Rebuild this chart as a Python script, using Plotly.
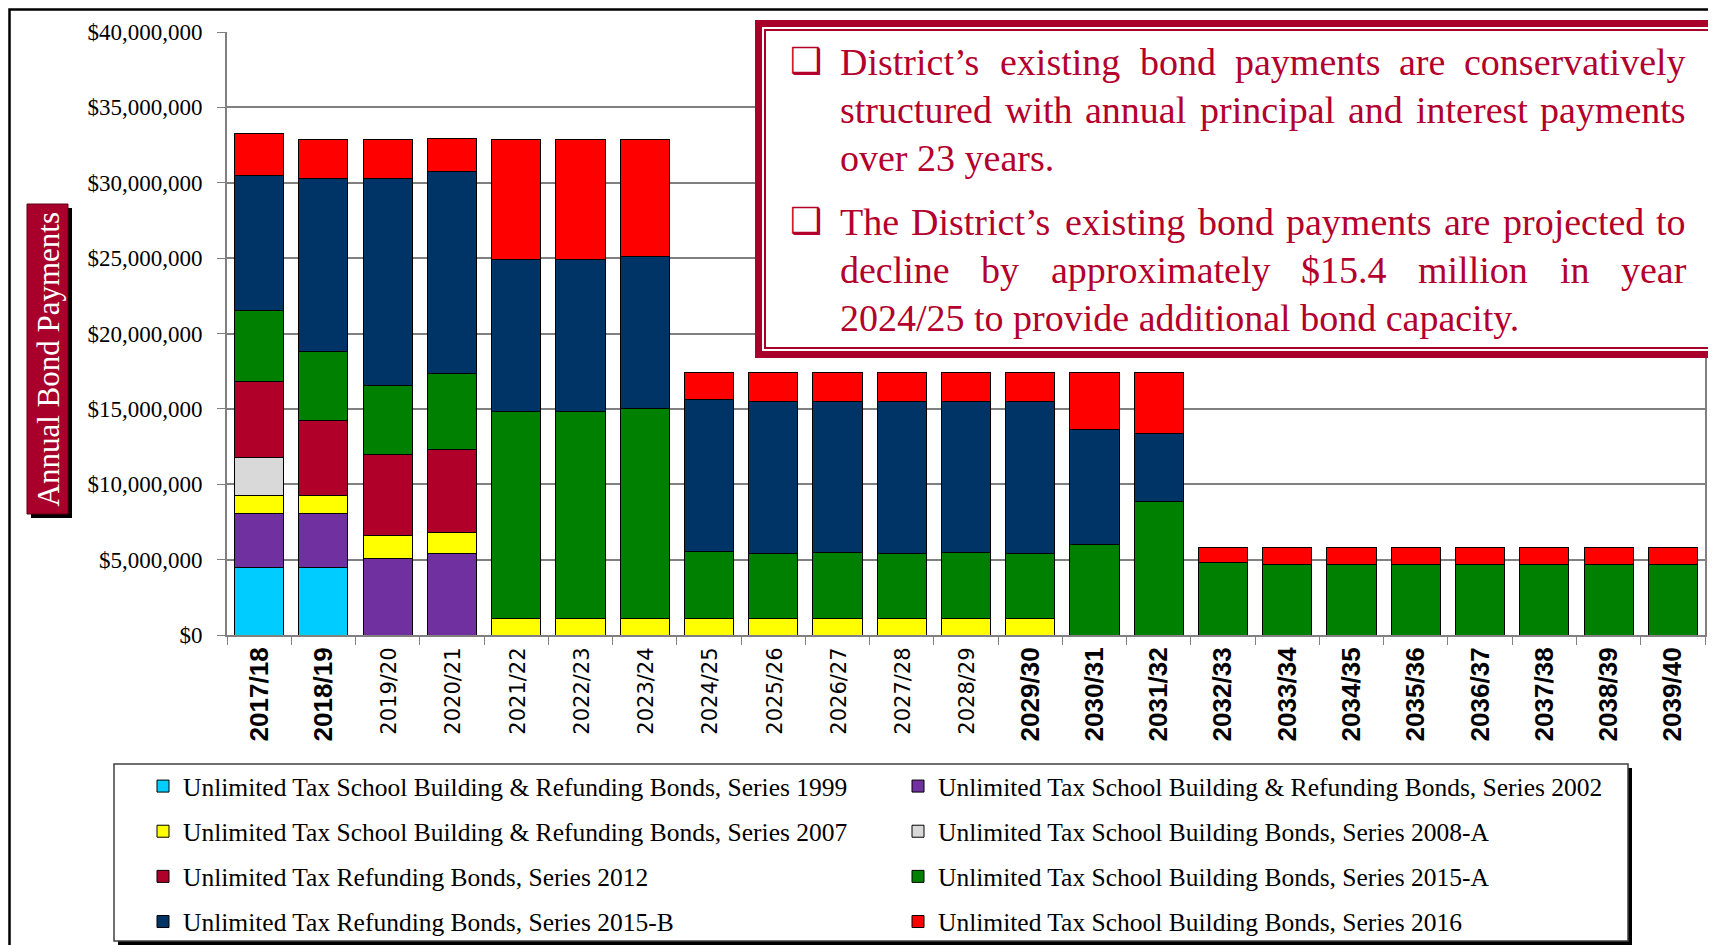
import plotly.graph_objects as go

# fiscal years on the x axis
years = ["2017/18", "2018/19", "2019/20", "2020/21", "2021/22", "2022/23", "2023/24",
         "2024/25", "2025/26", "2026/27", "2027/28", "2028/29", "2029/30", "2030/31",
         "2031/32", "2032/33", "2033/34", "2034/35", "2035/36", "2036/37", "2037/38",
         "2038/39", "2039/40"]

# annual payments per bond series (dollars), None = no payment that year
s1999 = [4_500_000, 4_500_000] + [None] * 21
s2002 = [3_560_000, 3_560_000, 5_050_000, 5_400_000] + [None] * 19
s2007 = [1_190_000, 1_170_000, 1_530_000, 1_420_000] + [1_090_000] * 9 + [None] * 10
s2008a = [2_500_000] + [None] * 22
s2012 = [5_040_000, 5_020_000, 5_370_000, 5_480_000] + [None] * 19
s2015a = [4_760_000, 4_530_000, 4_600_000, 5_020_000, 13_740_000, 13_740_000, 13_910_000,
          4_450_000, 4_320_000, 4_380_000, 4_320_000, 4_380_000, 4_320_000, 6_000_000,
          8_830_000, 4_830_000] + [4_680_000] * 7
s2015b = [8_930_000, 11_500_000, 13_730_000, 13_430_000, 10_100_000, 10_100_000, 10_080_000,
          10_060_000, 10_080_000, 10_020_000, 10_080_000, 10_020_000, 10_080_000, 7_610_000,
          4_540_000] + [None] * 8
s2016 = [2_760_000, 2_590_000, 2_590_000, 2_210_000, 7_940_000, 7_940_000, 7_790_000,
         1_830_000, 1_940_000, 1_940_000, 1_940_000, 1_940_000, 1_940_000, 3_820_000,
         4_060_000, 950_000] + [1_100_000] * 7

series = [
    ("Unlimited Tax School Building & Refunding Bonds, Series 1999", s1999, "#00CCFF", "legend"),
    ("Unlimited Tax School Building & Refunding Bonds, Series 2002", s2002, "#7030A0", "legend2"),
    ("Unlimited Tax School Building & Refunding Bonds, Series 2007", s2007, "#FFFF00", "legend"),
    ("Unlimited Tax School Building Bonds, Series 2008-A", s2008a, "#D9D9D9", "legend2"),
    ("Unlimited Tax Refunding Bonds, Series 2012", s2012, "#B0002A", "legend"),
    ("Unlimited Tax School Building Bonds, Series 2015-A", s2015a, "#008000", "legend2"),
    ("Unlimited Tax Refunding Bonds, Series 2015-B", s2015b, "#003366", "legend"),
    ("Unlimited Tax School Building Bonds, Series 2016", s2016, "#FF0000", "legend2"),
]

bold_years = set(years[:2] + years[12:])

box_lines = [
    ("District’s existing bond payments are conservatively", True),
    ("structured with annual principal and interest payments", True),
    ("over 23 years.", False),
    ("The District’s existing bond payments are projected to", True),
    ("decline by approximately $15.4 million in year", True),
    ("2024/25 to provide additional bond capacity.", False),
]

# the page body adds an 8px margin, so everything is laid out 8px up/left
OFF = 8
W, H = 1716, 945
L, T = 227 - OFF, 32 - OFF
R, B = W - (1705 - OFF), H - (635 - OFF)
PW, PH = W - L - R, H - T - B
CRIMSON = "#A8002A"
TEXTRED = "#B3002D"


def px(x):
    return (x - OFF - L) / PW


def py(y):
    return (H - B - (y - OFF)) / PH


# Times / Liberation Serif advance widths, used to justify the callout text
lw = dict(zip("abcdefghijklmnopqrstuvwxyz",
              [444, 500, 444, 500, 444, 333, 500, 500, 278, 278, 500, 278, 778,
               500, 500, 500, 500, 333, 389, 278, 500, 500, 722, 500, 500, 444]))
lw.update({"D": 722, "T": 611, "’": 333, ".": 250, "$": 500, "/": 278, " ": 250})


def text_w(s, size):
    return sum(lw.get(c, 500) for c in s) * size / 1000


fig = go.Figure()
for i, (name, vals, color, lg) in enumerate(series):
    fig.add_trace(go.Bar(x=years, y=vals, name=name, marker=dict(color=color, line=dict(color="black", width=1)),
                         legend=lg, legendgroup=f"g{i}"))

ticktext = []
for y in years:
    if y in bold_years:
        ticktext.append(f"<b>{y}</b>")
    else:
        ticktext.append(f"<span style='font-family:DejaVu Sans;font-size:21px'>{y}</span>")

leg_common = dict(xref="container", yref="container", xanchor="left", yanchor="top",
                  orientation="v", traceorder="grouped", tracegroupgap=9,
                  font=dict(family="Liberation Serif", size=25.5, color="black"),
                  bgcolor="rgba(0,0,0,0)", borderwidth=0, itemclick=False)

fig.update_layout(
    width=W, height=H,
    margin=dict(l=L, r=R, t=T, b=B, pad=0, autoexpand=False),
    barmode="stack", bargap=0.235,
    plot_bgcolor="white", paper_bgcolor="white",
    showlegend=True,
    legend=dict(x=135 / W, y=1 - 755 / H, **leg_common),
    legend2=dict(x=890 / W, y=1 - 755 / H, **leg_common),
)

fig.update_yaxes(range=[0, 40_000_000], dtick=5_000_000, tickprefix="$", tickformat=",.0f",
                 showgrid=True, gridcolor="#808080", gridwidth=1.5,
                 showline=True, linecolor="#808080", linewidth=2, mirror=True,
                 ticks="outside", ticklen=8, tickcolor="#808080", ticklabelstandoff=10,
                 tickfont=dict(family="Liberation Serif", size=23, color="black"))
fig.update_xaxes(tickmode="array", tickvals=years, ticktext=ticktext, tickangle=-90,
                 showgrid=False, showline=True, linecolor="#808080", linewidth=2,
                 ticks="outside", tickson="boundaries", ticklen=8, tickcolor="#808080",
                 tickfont=dict(family="Liberation Sans", size=26, color="black"))

shapes = []
# outer frame (as close to the page corner as the body margin allows)
shapes.append(dict(type="rect", xref="paper", yref="paper", x0=px(9.5), x1=px(1740), y0=py(9.5), y1=py(970),
                   line=dict(color="black", width=2.5), layer="above"))
# y-axis title badge with shadow
shapes.append(dict(type="rect", xref="paper", yref="paper", x0=px(31), x1=px(72), y0=py(208), y1=py(518),
                   fillcolor="black", line=dict(width=0), layer="above"))
shapes.append(dict(type="rect", xref="paper", yref="paper", x0=px(27), x1=px(68), y0=py(204), y1=py(514),
                   fillcolor=CRIMSON, line=dict(color="#5a0016", width=1), layer="above"))
# callout box with double border
shapes.append(dict(type="rect", xref="paper", yref="paper", x0=px(758.5), x1=px(1735), y0=py(23.5), y1=py(354.5),
                   fillcolor="white", line=dict(color=CRIMSON, width=7), layer="above"))
shapes.append(dict(type="rect", xref="paper", yref="paper", x0=px(765), x1=px(1713), y0=py(30), y1=py(348),
                   line=dict(color=CRIMSON, width=2), layer="above"))
# legend frame with shadow
shapes.append(dict(type="rect", xref="paper", yref="paper", x0=px(118), x1=px(1632), y0=py(768), y1=py(960),
                   fillcolor="black", line=dict(width=0), layer="above"))
shapes.append(dict(type="rect", xref="paper", yref="paper", x0=px(114), x1=px(1628), y0=py(764), y1=py(941),
                   fillcolor="white", line=dict(color="#404040", width=1.5), layer="above"))

annotations = [dict(xref="paper", yref="paper", x=px(47.5), y=py(359), text="Annual Bond Payments",
                    textangle=-90, showarrow=False, xanchor="center", yanchor="middle",
                    font=dict(family="Liberation Serif", size=31, color="white"))]

FS = 38
left, right = 839, 1685
line_y = [62, 110, 158, 222, 270, 318]
for (txt, justify), ly in zip(box_lines, line_y):
    if justify:
        words = txt.split(" ")
        total = sum(text_w(w, FS) for w in words)
        gap = (right - left - total) / (len(words) - 1)
        x = left
        for w in words:
            annotations.append(dict(xref="paper", yref="paper", x=px(x), y=py(ly), text=w,
                                    xanchor="left", yanchor="middle", showarrow=False, borderpad=0,
                                    font=dict(family="Liberation Serif", size=FS, color=TEXTRED)))
            x += text_w(w, FS) + gap
    else:
        annotations.append(dict(xref="paper", yref="paper", x=px(left), y=py(ly), text=txt,
                                xanchor="left", yanchor="middle", showarrow=False, borderpad=0,
                                font=dict(family="Liberation Serif", size=FS, color=TEXTRED)))
for ly in (line_y[0], line_y[3]):
    annotations.append(dict(xref="paper", yref="paper", x=px(806), y=py(ly - 2), text="<b>❑</b>",
                            xanchor="center", yanchor="middle", showarrow=False, borderpad=0,
                            font=dict(family="DejaVu Sans", size=36, color=TEXTRED)))

fig.update_layout(shapes=shapes, annotations=annotations)

fig.write_html("out.html")
